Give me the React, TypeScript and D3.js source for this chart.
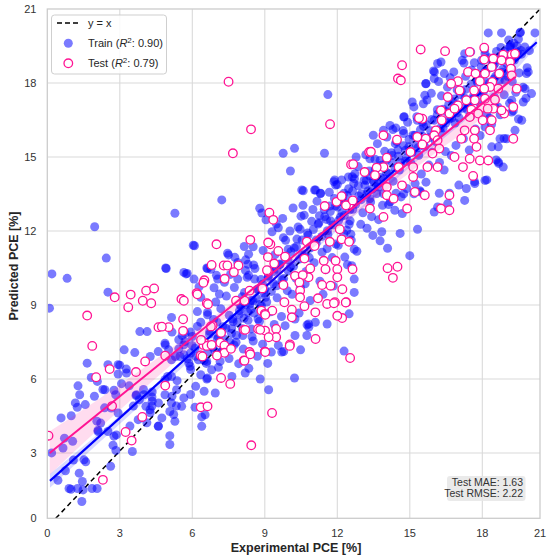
import * as d3 from "d3";

const train: [number, number][] = [
  // sparse / outliers
  [7.22, 13.26], [5.28, 12.72], [1.96, 12.17], [2.44, 10.9], [0.19, 10.26], [0.82, 10.08], [6.09, 11.4],
  [4.9, 10.5], [5.74, 10.26], [8.15, 11.37], [7.5, 11.03], [7.76, 10.93], [8.54, 10.62], [8.79, 12.92],
  [8.88, 12.73], [9.05, 12.45], [9.3, 11.97], [6.6, 10.5], [7.0, 10.2], [8.2, 10.4], [8.33, 10.2],
  [0.09, 8.87], [2.51, 9.52], [3.18, 7.18], [3.62, 7.07], [1.65, 6.64], [1.82, 6.06], [1.27, 5.72],
  [0.57, 4.42], [0.99, 4.51], [1.24, 4.85], [1.57, 4.96], [1.34, 5.36], [2.38, 5.56], [2.07, 5.9],
  [2.51, 6.58], [2.93, 6.58], [3.27, 6.4], [2.93, 6.2], [2.83, 5.36], [3.39, 5.72], [3.69, 5.36],
  [4.0, 5.36], [3.76, 4.35], [2.93, 4.62], [2.65, 4.82], [2.21, 4.21], [2.1, 3.87], [2.51, 3.87],
  [2.76, 3.68], [2.72, 3.31], [2.84, 3.1], [2.62, 2.46], [3.52, 3.06], [4.08, 4.89], [4.59, 4.08],
  [4.25, 4.75], [4.34, 5.1], [4.34, 5.47], [4.87, 5.36], [4.87, 5.97], [5.14, 6.1], [5.35, 5.56],
  [5.14, 5.02], [5.07, 4.68], [5.07, 3.7], [5.07, 3.34], [5.28, 4.28], [5.56, 4.89], [4.59, 7.11],
  [4.87, 7.45], [5.14, 6.78], [5.49, 6.91], [5.7, 7.52], [5.7, 7.86], [5.91, 6.51], [6.25, 6.78],
  [6.11, 7.25], [6.6, 6.0], [6.95, 5.43], [6.39, 4.46], [6.39, 4.08], [6.53, 4.55], [6.11, 4.85],
  [5.14, 8.49], [3.83, 7.92], [4.13, 7.92], [6.6, 6.71], [6.8, 6.37], [7.15, 6.71], [7.64, 6.1],
  [8.19, 6.24], [8.81, 6.0], [9.16, 5.56],
  [0.44, 1.89], [0.75, 2.28], [0.9, 1.56], [0.98, 1.53], [1.25, 1.56], [1.45, 1.84], [1.48, 1.5],
  [1.43, 1.03], [1.85, 1.56], [2.06, 1.56], [1.52, 2.72], [1.08, 2.71], [1.32, 2.18], [1.59, 2.64],
  [0.18, 3.0], [0.71, 3.6], [0.65, 3.2], [1.05, 3.47], [2.1, 3.92], [2.86, 3.73],
  [4.92, 10.48], [5.79, 10.28], [6.63, 10.48], [4.26, 6.91], [4.88, 7.38], [5.02, 7.18], [5.3, 6.91],
  [5.65, 6.98], [5.93, 7.05], [3.0, 6.56], [3.28, 6.24], [2.76, 5.54], [2.3, 5.57], [3.07, 5.81],
  [1.16, 5.03], [1.95, 5.3], [2.37, 4.83], [2.05, 4.29], [3.98, 5.57], [3.67, 5.33], [3.81, 5.16],
  [3.56, 4.9], [4.33, 5.27], [4.33, 4.9], [4.6, 5.03], [5.16, 5.3], [5.34, 4.9], [5.23, 4.56],
  [4.74, 4.42], [4.6, 4.09], [5.65, 5.23], [5.93, 5.37], [6.14, 5.7], [6.49, 5.5], [6.63, 6.04],
  [6.35, 6.17], [5.86, 6.64], [5.93, 6.38], [6.35, 6.91], [5.65, 7.38], [5.44, 7.59], [6.0, 7.72],
  [6.21, 8.13], [6.63, 8.6], [6.21, 8.73], [6.28, 9.74], [5.37, 5.93], [4.98, 6.1], [3.42, 4.09],
  [4.12, 4.22], [4.26, 4.63],
  [10.53, 13.66], [11.06, 13.66], [11.3, 13.52], [11.86, 14.0], [12.0, 13.88], [10.04, 12.0],
  [10.46, 12.07], [9.56, 12.13], [6.04, 11.42], [8.33, 11.06], [7.46, 11.1], [7.88, 10.72], [8.3, 10.65],
  [5.65, 10.32], [6.07, 10.05], [6.77, 10.45], [7.05, 10.05], [6.9, 9.7], [7.12, 9.44], [6.35, 9.31],
  [5.16, 7.9], [5.58, 7.76], [5.93, 7.9], [6.35, 8.3], [6.63, 8.7], [5.44, 7.22], [5.99, 7.36],
  [5.79, 6.82], [6.63, 7.09], [6.49, 6.75], [10.81, 8.23], [11.09, 8.3], [12.28, 7.13], [11.58, 8.23],
  [12.0, 8.57], [12.49, 8.64], [12.7, 9.51], [12.7, 10.05], [12.6, 10.59], [12.7, 11.26], [12.56, 11.87],
  [12.49, 12.27], [12.2, 12.74], [11.55, 12.47], [11.69, 13.01], [10.99, 12.87], [10.5, 12.6],
  [9.77, 11.73], [9.97, 11.26], [9.5, 10.45], [9.15, 10.18], [9.0, 9.64], [8.86, 8.97], [8.72, 8.43],
  [8.44, 8.03], [8.09, 7.76], [7.81, 7.49], [7.46, 7.29], [7.19, 7.09], [9.56, 7.36], [9.27, 7.09],
  [9.7, 7.09], [10.25, 7.76], [10.74, 7.76], [9.84, 8.16], [10.25, 8.43], [7.88, 10.05], [8.58, 10.05],
  [8.16, 9.51], [8.51, 9.17], [7.95, 8.77], [7.67, 8.43], [8.3, 8.7], [8.72, 9.64],
  [10.23, 6.04], [10.48, 7.18], [9.78, 7.11], [10.75, 8.19], [10.82, 8.1],
  [6.93, 7.14], [7.08, 6.47], [7.31, 7.62], [7.52, 6.83], [7.73, 7.38], [7.92, 6.62], [8.11, 7.21],
  [8.34, 6.43], [8.52, 7.54], [8.69, 6.92], [8.91, 7.41], [9.12, 6.63], [6.71, 7.82], [7.02, 8.31],
  [7.63, 8.04], [8.02, 8.93],
  // upper right
  [18.31, 20.03], [19.0, 20.03], [19.96, 20.03], [19.98, 20.06], [20.74, 20.03], [17.52, 19.26],
  [18.14, 19.19], [16.15, 18.79], [15.98, 18.49], [16.01, 18.18], [15.66, 17.97], [15.62, 17.5],
  [15.1, 17.23], [14.75, 16.62], [15.56, 17.16], [16.43, 18.38], [16.82, 18.45], [17.24, 18.81],
  [17.27, 19.19], [17.97, 18.92], [18.66, 18.79], [19.53, 18.58], [20.3, 18.38], [20.56, 17.57],
  [20.13, 17.23], [19.53, 17.3], [19.18, 18.11], [15.52, 16.42], [15.31, 16.49], [16.01, 16.49],
  [14.3, 16.11], [13.91, 16.08], [14.05, 15.81], [13.49, 15.88], [14.4, 15.54], [14.82, 15.27],
  [14.75, 15.95], [13.35, 14.93], [13.77, 14.86], [12.78, 15.0], [12.46, 14.19], [12.71, 14.12],
  [13.2, 14.05], [13.49, 14.05], [13.7, 13.78], [13.91, 13.51], [13.35, 13.31], [13.0, 13.51],
  [12.22, 13.38], [12.01, 12.97], [14.19, 13.18], [14.75, 13.51], [15.17, 13.51], [15.45, 13.58],
  [16.01, 12.77], [16.15, 12.97], [16.57, 13.11], [17.27, 13.24], [17.34, 13.72], [17.69, 13.92],
  [18.14, 14.05], [18.83, 14.8], [19.09, 14.59], [18.92, 15.74], [19.27, 15.74], [18.49, 15.41],
  [18.14, 16.22], [19.7, 16.08], [20.05, 16.49], [19.53, 16.82], [20.22, 17.77], [18.66, 17.03],
  [19.44, 19.47], [19.8, 19.5], [20.39, 18.45],
  [11.61, 17.53], [9.76, 15.15], [10.23, 15.35], [11.47, 15.15], [10.06, 14.43], [12.62, 14.2],
  [11.89, 14.07], [11.93, 13.86], [10.59, 13.63], [11.1, 13.66], [11.31, 13.53], [12.28, 13.53],
  [14.77, 16.63], [14.42, 16.18], [15.67, 17.98], [16.02, 18.45], [16.29, 18.85], [18.23, 14.07],
  [18.85, 14.74], [18.72, 14.88], [18.83, 15.41], [19.13, 15.75], [15.0, 11.0], [15.32, 12.07],
  [14.6, 11.9], [13.77, 11.6], [14.08, 11.3], [16.22, 13.53], [16.64, 13.53], [17.03, 13.86],
  [17.68, 14.0],
  // dense band
  [6.72, 7.93], [6.88, 8.41], [7.04, 7.62], [7.18, 8.85], [7.27, 8.12], [7.41, 9.36], [7.53, 8.58],
  [7.62, 7.84], [7.74, 9.71], [7.86, 8.29], [7.97, 9.02], [7.33, 9.92], [7.58, 10.24], [6.97, 9.12],
  [8.06, 9.33], [8.14, 8.46], [8.27, 10.12], [8.38, 9.04], [8.47, 7.71], [8.59, 10.48], [8.66, 9.27],
  [8.78, 8.34], [8.84, 10.03], [8.93, 11.21], [8.21, 10.83], [8.52, 11.36], [8.97, 9.48], [8.42, 8.81],
  [9.08, 9.12], [9.17, 10.41], [9.24, 8.72], [9.36, 9.87], [9.42, 11.04], [9.51, 9.29], [9.63, 10.66],
  [9.69, 8.53], [9.78, 10.07], [9.86, 11.62], [9.93, 9.58], [9.21, 11.48], [9.48, 12.28], [9.74, 12.51],
  [9.39, 8.21], [9.96, 10.83],
  [10.06, 10.54], [10.13, 9.43], [10.22, 11.31], [10.29, 10.08], [10.38, 12.16], [10.47, 9.72],
  [10.56, 11.02], [10.63, 12.64], [10.71, 10.36], [10.79, 11.83], [10.88, 9.18], [10.94, 12.39],
  [10.17, 12.93], [10.42, 8.67], [10.67, 9.86], [10.84, 10.92], [10.33, 11.67], [10.58, 13.04],
  [11.04, 10.71], [11.12, 11.63], [11.21, 12.28], [11.28, 9.96], [11.37, 11.14], [11.46, 12.87],
  [11.53, 10.43], [11.61, 11.86], [11.72, 12.41], [11.79, 10.92], [11.88, 13.32], [11.94, 11.47],
  [11.16, 13.21], [11.41, 9.43], [11.67, 13.57], [11.83, 9.77], [11.26, 12.62], [11.58, 11.29],
  [12.04, 11.42], [12.13, 12.57], [12.24, 13.16], [12.31, 10.94], [12.39, 12.03], [12.47, 13.71],
  [12.58, 11.63], [12.64, 12.88], [12.73, 14.32], [12.81, 11.18], [12.89, 13.42], [12.97, 12.27],
  [12.18, 14.07], [12.42, 10.63], [12.68, 13.93], [12.86, 14.61], [12.27, 11.89], [12.53, 12.41],
  [13.06, 12.74], [13.14, 13.86], [13.23, 12.11], [13.32, 14.43], [13.38, 13.17], [13.47, 11.82],
  [13.56, 14.91], [13.63, 13.52], [13.71, 12.46], [13.79, 14.17], [13.87, 13.04], [13.96, 15.23],
  [13.18, 15.09], [13.42, 12.58], [13.66, 15.54], [13.84, 11.97], [13.27, 13.62], [13.52, 13.97],
  [14.03, 14.38], [14.12, 13.07], [14.24, 15.17], [14.31, 14.02], [14.38, 12.84], [14.46, 15.62],
  [14.57, 14.47], [14.64, 13.38], [14.72, 16.07], [14.81, 14.83], [14.88, 13.72], [14.96, 15.41],
  [14.18, 16.28], [14.43, 13.53], [14.69, 12.71], [14.91, 16.41], [14.27, 14.77], [14.53, 15.03],
  [15.04, 14.76], [15.13, 15.88], [15.22, 13.92], [15.29, 16.63], [15.37, 15.07], [15.48, 14.31],
  [15.57, 16.24], [15.62, 15.42], [15.71, 17.31], [15.79, 14.67], [15.86, 16.06], [15.94, 15.19],
  [15.17, 17.03], [15.41, 13.63], [15.67, 13.98], [15.89, 17.58], [15.26, 15.52], [15.53, 15.84],
  [16.06, 15.63], [16.14, 16.92], [16.23, 14.78], [16.31, 17.48], [16.38, 16.17], [16.47, 15.22],
  [16.56, 17.83], [16.63, 16.54], [16.72, 15.06], [16.78, 17.24], [16.87, 16.38], [16.96, 17.72],
  [16.19, 18.06], [16.42, 14.47], [16.67, 18.21], [16.91, 15.47], [16.27, 16.02], [16.52, 16.83],
  [17.04, 16.58], [17.13, 17.67], [17.22, 15.74], [17.31, 18.27], [17.37, 16.92], [17.46, 15.28],
  [17.55, 18.53], [17.63, 17.46], [17.72, 16.13], [17.79, 18.04], [17.88, 17.21], [17.96, 18.66],
  [17.17, 18.92], [17.42, 17.12], [17.67, 18.82], [17.91, 15.87], [17.28, 17.38], [17.51, 16.64],
  [18.05, 17.63], [18.16, 18.48], [18.22, 16.74], [18.33, 19.02], [18.41, 17.86], [18.48, 16.32],
  [18.57, 18.67], [18.63, 17.42], [18.74, 19.28], [18.81, 17.03], [18.89, 18.12], [18.97, 19.44],
  [18.12, 19.37], [18.38, 16.58], [18.69, 18.27], [18.93, 16.71], [18.27, 18.03], [18.53, 17.91],
  [19.06, 18.44], [19.14, 17.52], [19.23, 19.08], [19.31, 18.27], [19.42, 17.18], [19.48, 19.52],
  [19.56, 18.06], [19.67, 18.93], [19.74, 17.62], [19.83, 19.27], [19.92, 18.41], [20.04, 19.17],
  [20.12, 17.83], [20.21, 19.46], [20.33, 18.62], [20.45, 19.31], [19.37, 19.74], [19.61, 16.87],
  [19.88, 16.54], [20.27, 17.38],
  // core of the band, where the markers merge into solid blue
  [6.14, 6.92], [6.42, 7.58], [6.58, 6.63], [6.83, 7.29], [7.07, 7.71], [7.24, 7.13], [7.39, 8.06],
  [7.56, 7.49], [7.69, 8.33], [7.83, 7.77], [7.94, 8.62], [8.08, 8.04], [8.19, 9.02], [8.31, 8.38],
  [8.44, 9.18], [8.56, 8.67], [8.68, 9.63], [8.79, 9.02], [8.91, 9.84], [9.03, 9.31], [9.14, 10.12],
  [9.27, 9.55], [9.38, 10.36], [9.49, 9.78], [9.62, 10.63], [9.71, 10.02], [9.83, 10.94], [9.97, 10.38],
  [10.08, 11.16], [10.19, 10.57], [10.31, 11.36], [10.43, 10.86], [10.54, 11.63], [10.66, 11.07],
  [10.77, 11.92], [10.89, 11.32], [11.01, 12.06], [11.13, 11.51], [11.24, 12.33], [11.36, 11.78],
  [11.48, 12.58], [11.59, 12.01], [11.71, 12.79], [11.82, 12.24], [11.93, 13.02], [12.06, 12.43],
  [12.17, 13.21], [12.29, 12.63], [12.41, 13.44], [12.52, 12.86], [12.63, 13.62], [12.76, 13.08],
  [12.87, 13.83], [12.99, 13.27], [13.11, 14.06], [13.22, 13.49], [13.34, 14.24], [13.46, 13.71],
  [13.57, 14.48], [13.69, 13.92], [13.81, 14.66], [13.92, 14.13], [14.04, 14.89], [14.16, 14.32],
  [14.27, 15.06], [14.39, 14.54], [14.51, 15.29], [14.62, 14.77], [14.74, 15.46], [14.86, 14.96],
  [14.97, 15.71], [15.09, 15.18], [15.21, 15.88], [15.33, 15.37], [15.44, 16.11], [15.56, 15.57],
  [15.68, 16.32], [15.79, 15.78], [15.91, 16.52], [16.03, 15.98], [16.14, 16.73], [16.26, 16.17],
  [16.38, 16.94], [16.49, 16.38], [16.61, 17.13], [16.73, 16.58], [16.84, 17.35], [16.96, 16.79],
  [17.08, 17.53], [17.19, 16.98], [17.31, 17.74], [17.43, 17.19], [17.54, 17.96], [17.66, 17.39],
  [17.78, 18.14], [17.89, 17.58], [18.01, 18.33], [18.13, 17.77], [18.24, 18.53], [18.36, 17.98],
  [18.48, 18.71], [18.59, 18.16], [18.71, 18.92], [18.83, 18.37], [18.94, 19.08], [19.06, 18.56],
  [19.18, 19.27], [19.29, 18.76], [19.41, 19.45], [19.53, 18.94], [19.64, 19.61], [19.76, 19.13],
  [19.88, 19.78], [20.01, 19.32],
];

const test: [number, number][] = [
  [7.5, 18.05], [8.43, 16.12], [7.68, 15.15], [7.0, 11.46], [8.4, 11.64], [6.8, 10.62], [7.3, 10.6],
  [7.45, 10.6], [7.91, 10.6], [7.72, 10.33], [6.5, 10.0], [7.34, 10.06], [9.19, 12.74], [9.35, 12.45],
  [9.23, 11.46], [9.13, 10.94], [9.13, 10.36],
  [6.18, 9.48], [5.55, 9.24], [6.6, 9.07], [7.81, 9.17], [8.16, 9.17], [8.37, 9.58], [8.9, 9.67],
  [9.09, 10.41], [9.39, 10.68], [9.56, 11.19], [9.84, 10.96], [9.14, 11.53], [10.74, 11.57],
  [11.06, 11.39], [11.69, 11.56], [12.18, 11.66], [12.49, 11.56], [12.1, 12.07], [11.97, 13.18],
  [11.48, 13.01], [12.49, 13.08], [12.18, 13.41], [10.64, 10.88], [10.88, 10.48], [10.81, 10.12],
  [11.44, 10.79], [11.51, 10.45], [11.93, 10.79], [12.0, 10.45], [12.0, 10.12], [12.63, 10.45],
  [11.72, 9.78], [11.37, 9.81], [12.21, 9.64], [10.25, 10.18], [10.57, 10.21], [10.43, 9.91],
  [10.46, 9.58], [10.46, 9.31], [9.77, 9.81], [9.81, 9.11], [10.12, 8.81], [10.12, 8.5], [10.64, 8.95],
  [11.09, 8.7], [11.2, 9.27], [11.58, 9.04], [11.9, 9.11], [12.37, 9.11], [12.2, 8.47], [11.1, 7.62],
  [10.04, 7.4], [8.86, 8.77], [9.31, 8.77], [9.0, 8.64], [8.72, 8.03], [9.01, 7.96], [9.47, 8.03],
  [9.47, 7.69], [9.16, 7.69], [9.0, 7.11], [8.13, 7.99], [8.37, 7.09], [8.13, 6.75], [7.19, 7.87],
  [6.84, 8.16], [6.53, 7.43], [6.35, 6.95], [7.16, 7.47], [7.33, 7.36], [7.33, 7.06], [7.02, 6.95],
  [7.6, 7.22], [12.53, 6.85], [12.0, 8.56], [12.35, 9.1], [11.86, 9.07], [10.03, 7.34], [9.3, 4.62],
  [15.45, 19.36], [16.46, 19.29], [14.68, 18.72], [14.51, 18.18], [14.63, 18.11], [17.48, 19.26],
  [18.1, 19.43], [18.1, 18.95], [18.57, 18.99], [19.09, 19.15], [19.53, 19.15], [19.7, 19.19],
  [19.0, 18.92], [19.44, 18.85], [19.49, 18.58], [19.53, 18.31], [19.79, 17.77], [19.61, 17.03],
  [19.14, 16.76], [18.57, 16.96], [19.0, 16.89], [19.61, 15.74], [17.41, 18.45], [17.72, 18.38],
  [18.14, 18.38], [18.49, 18.65], [18.52, 18.04], [18.88, 18.38], [18.83, 17.77], [18.4, 17.84],
  [17.9, 18.07], [18.1, 17.77], [17.66, 17.7], [17.69, 17.3], [18.14, 17.36], [17.97, 17.0],
  [18.66, 17.32], [18.28, 16.96], [17.55, 16.92], [17.34, 17.3], [16.99, 18.07], [17.06, 17.7],
  [16.71, 17.97], [16.57, 17.43], [16.99, 17.09], [17.48, 16.62], [17.83, 16.76], [18.02, 16.49],
  [18.49, 16.49], [18.4, 16.08], [17.69, 16.08], [17.27, 16.08], [17.13, 15.74], [17.66, 15.74],
  [17.76, 15.41], [16.64, 16.76], [16.85, 16.96], [16.29, 16.89], [16.32, 16.49], [16.08, 16.08],
  [15.52, 16.55], [15.38, 16.58], [16.01, 15.88], [15.66, 15.74], [15.31, 15.81], [15.52, 15.51],
  [16.15, 15.68], [16.22, 15.34], [15.03, 15.2], [15.94, 15.14], [16.85, 15.0], [17.48, 14.93],
  [17.9, 14.86], [17.2, 14.59], [17.62, 14.23], [18.31, 14.86], [13.91, 15.88], [14.47, 15.7],
  [13.32, 15.2], [14.05, 14.97], [14.54, 14.59], [13.91, 14.59], [13.63, 14.57], [15.14, 14.59],
  [15.14, 14.19], [15.73, 14.59], [16.15, 14.59], [15.21, 13.58], [15.62, 13.45], [16.64, 13.45],
  [16.29, 12.91], [16.64, 12.84], [12.57, 14.7], [13.13, 14.39], [13.56, 14.26], [14.05, 13.78],
  [14.68, 13.85], [14.05, 13.45], [14.33, 13.31], [14.89, 12.91], [12.36, 13.04], [12.64, 13.24],
  [13.35, 12.91], [13.91, 12.57],
  [11.7, 16.33], [13.39, 15.21], [12.66, 14.71], [14.08, 10.49], [14.49, 10.55], [14.3, 10.1],
  [2.79, 9.31], [3.45, 9.42], [4.09, 9.58], [4.42, 9.67], [3.95, 9.17], [4.3, 9.07], [3.35, 8.91],
  [1.65, 8.57], [1.86, 7.34], [4.6, 8.1], [5.02, 8.1], [4.74, 8.12], [5.62, 8.42], [5.65, 9.17],
  [5.62, 7.95], [6.46, 9.9], [6.21, 9.43], [6.65, 9.03], [4.05, 6.71], [3.67, 6.28], [2.58, 6.4],
  [2.02, 6.07], [4.88, 6.94], [4.88, 5.73], [2.68, 4.9], [3.93, 4.46], [6.35, 4.85], [6.63, 4.89],
  [6.46, 7.38], [6.6, 7.34], [6.42, 6.91], [6.77, 8.13], [0.05, 3.7], [2.3, 1.91], [3.24, 3.85],
  [3.49, 3.5], [7.19, 6.04], [7.57, 5.8], [8.44, 3.31], [6.36, 7.58], [6.8, 7.38], [8.16, 6.74],
  [8.4, 7.0], [8.81, 7.99], [8.19, 7.99], [9.02, 8.6], [9.02, 7.09],
];

// regression fits and their confidence bands: [x, lower, upper]
const trainLine: [number, number][] = [[0.11, 1.87], [20.83, 19.65]];
const testLine: [number, number][] = [[0.1, 3.0], [19.7, 18.24]];
const trainBand: [number, number, number][] = [
  [0.11, 1.59, 2.15], [2, 3.29, 3.69], [4, 5.07, 5.35], [6, 6.83, 7.01], [8, 8.58, 8.7],
  [10, 10.31, 10.41], [12, 12.02, 12.12], [14, 13.73, 13.85], [16, 15.42, 15.58],
  [18, 17.11, 17.33], [20.83, 19.48, 19.82],
];
const testBand: [number, number, number][] = [
  [0.1, 2.12, 3.88], [2, 3.86, 5.1], [4, 5.61, 6.45], [6, 7.32, 7.86], [8, 8.95, 9.35],
  [10, 10.53, 10.87], [12, 12.09, 12.43], [14, 13.61, 14.01], [16, 15.12, 15.62],
  [18, 16.6, 17.26], [19.7, 17.85, 18.65],
];
const identity = [0.35, 21];

const xTicks = [0, 3, 6, 9, 12, 15, 18, 21];
const yTicks = [0, 3, 6, 9, 12, 15, 18, 21];
const stats = ["Test MAE: 1.63", "Test RMSE: 2.22"];

const W = 550;
const H = 559;
const L = 47.3;
const R = 540;
const T = 9;
const B = 518.3;
const FONT = "'Liberation Sans', Arial, sans-serif";
const BLUE = "#0000ff";
const PINK = "#ff1493";

export default function App() {
  const x = d3.scaleLinear().domain([0, 18, 21]).range([L, 482.3, R]).clamp(true);
  const y = d3.scaleLinear().domain([0.35, 21]).range([B, T]).clamp(true);

  const line = d3
    .line<[number, number]>()
    .x((d) => x(d[0]))
    .y((d) => y(d[1]));
  const band = d3
    .area<[number, number, number]>()
    .x((d) => x(d[0]))
    .y0((d) => y(d[1]))
    .y1((d) => y(d[2]))
    .curve(d3.curveMonotoneX);

  const grid = xTicks.filter((t) => t > 0 && t < 21);

  return (
    <svg
      width={W}
      height={H}
      style={{ position: "absolute", left: 0, top: 0, background: "#fff" }}
      fontFamily={FONT}
    >
      <defs>
        <clipPath id="plot">
          <rect x={L} y={T} width={R - L} height={B - T} />
        </clipPath>
      </defs>

      {/* grid */}
      <g stroke="#dadada" strokeWidth={1.1}>
        {grid.map((t) => (
          <line key={"gx" + t} x1={x(t)} x2={x(t)} y1={T} y2={B} />
        ))}
        {yTicks
          .filter((t) => t > 0 && t < 21)
          .map((t) => (
            <line key={"gy" + t} x1={L} x2={R} y1={y(t)} y2={y(t)} />
          ))}
      </g>

      <g clipPath="url(#plot)">
        <line
          x1={x(identity[0])}
          y1={y(identity[0])}
          x2={x(identity[1])}
          y2={y(identity[1])}
          stroke="#000"
          strokeWidth={1.5}
          strokeDasharray="5,3.5"
        />
        {train.map((d, i) => (
          <circle key={"tr" + i} cx={x(d[0])} cy={y(d[1])} r={4.5} fill={BLUE} fillOpacity={0.52} />
        ))}
        <path d={band(trainBand) ?? ""} fill={BLUE} fillOpacity={0.15} />
        <path d={line(trainLine) ?? ""} stroke={BLUE} strokeWidth={2.2} fill="none" />
        {test.map((d, i) => (
          <circle
            key={"te" + i}
            cx={x(d[0])}
            cy={y(d[1])}
            r={4.3}
            fill="#fff"
            stroke={PINK}
            strokeWidth={1.3}
          />
        ))}
        <path d={band(testBand) ?? ""} fill={PINK} fillOpacity={0.15} />
        <path d={line(testLine) ?? ""} stroke={PINK} strokeWidth={2} fill="none" />
      </g>

      {/* frame */}
      <rect x={L} y={T} width={R - L} height={B - T} fill="none" stroke="#cccccc" strokeWidth={1.3} />

      {/* tick labels */}
      <g fontSize={11} fill="#333">
        {xTicks.map((t) => (
          <text key={"xl" + t} x={x(t)} y={536.5} textAnchor="middle">
            {t}
          </text>
        ))}
        {yTicks.map((t) => (
          <text key={"yl" + t} x={36.5} y={y(t)} dy="0.36em" textAnchor="end">
            {t}
          </text>
        ))}
      </g>

      {/* axis titles */}
      <text x={296} y={552} textAnchor="middle" fontSize={12.5} fontWeight="bold" fill="#262626">
        Experimental PCE [%]
      </text>
      <text
        transform="translate(17.5,266) rotate(-90)"
        textAnchor="middle"
        fontSize={12.5}
        fontWeight="bold"
        fill="#262626"
      >
        Predicted PCE [%]
      </text>

      {/* legend */}
      <g fontSize={11} fill="#262626">
        <rect x={51.5} y={15} width={115} height={59} rx={3} fill="#fff" fillOpacity={0.85} stroke="#cfcfcf" />
        <line x1={57} x2={79} y1={23} y2={23} stroke="#000" strokeWidth={1.5} strokeDasharray="5,3" />
        <text x={88} y={27}>y = x</text>
        <circle cx={68.3} cy={43.3} r={4.5} fill={BLUE} fillOpacity={0.52} />
        <text x={88} y={47.3}>
          Train (<tspan fontStyle="italic">R</tspan>
          <tspan dy={-4} fontSize={8}>2</tspan>
          <tspan dy={4}>: 0.90)</tspan>
        </text>
        <circle cx={68.3} cy={63.3} r={4.3} fill="#fff" stroke={PINK} strokeWidth={1.3} />
        <text x={88} y={67.3}>
          Test (<tspan fontStyle="italic">R</tspan>
          <tspan dy={-4} fontSize={8}>2</tspan>
          <tspan dy={4}>: 0.79)</tspan>
        </text>
      </g>

      {/* error box */}
      <rect x={447} y={476} width={78.5} height={25} rx={3} fill="#e6e6e6" fillOpacity={0.85} />
      <g fontSize={10.5} fill="#333" textAnchor="end">
        {stats.map((s, i) => (
          <text key={s} x={523} y={485.5 + i * 11.8}>
            {s}
          </text>
        ))}
      </g>
    </svg>
  );
}
